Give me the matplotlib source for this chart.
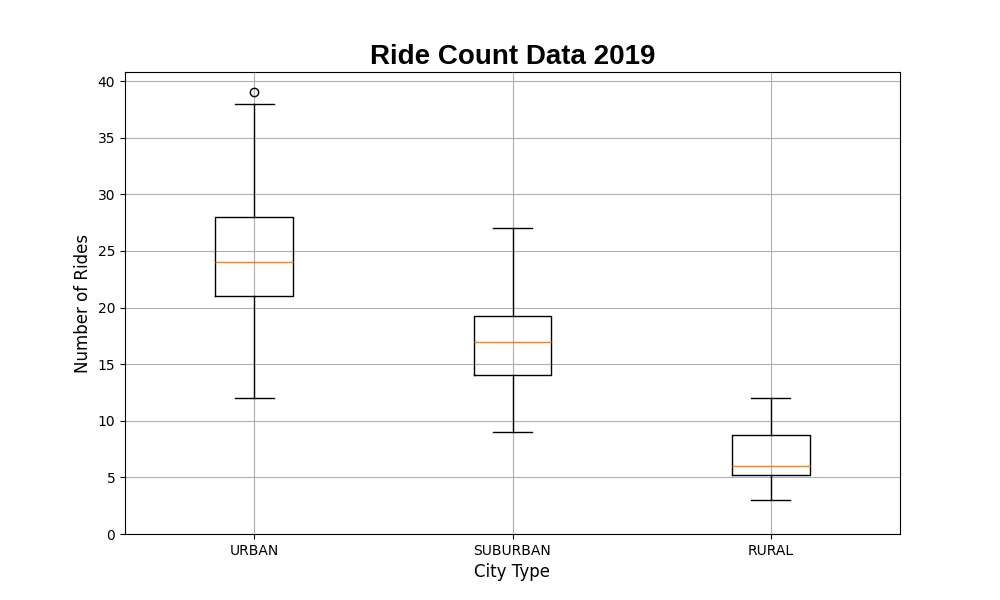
import matplotlib
matplotlib.use("Agg")
import matplotlib.pyplot as plt

city_types = ["URBAN", "SUBURBAN", "RURAL"]
whisker_low = [12, 9, 3]
q1 = [21, 14, 5.25]
median = [24, 17, 6]
q3 = [28, 19.25, 8.75]
whisker_high = [38, 27, 12]
outliers = [[39], [], []]

stats = []
for i, name in enumerate(city_types):
    stats.append({"label": name, "whislo": whisker_low[i], "q1": q1[i],
                  "med": median[i], "q3": q3[i], "whishi": whisker_high[i],
                  "fliers": outliers[i]})

fig, ax = plt.subplots(figsize=(10, 6))
ax.bxp(stats, showfliers=True)
ax.set_title("Ride Count Data 2019", fontsize=20, fontweight="bold",
             family="Liberation Sans")
ax.set_ylabel("Number of Rides", fontsize=12)
ax.set_xlabel("City Type", fontsize=12)
ax.set_yticks(range(0, 41, 5))
ax.set_ylim(0, 40.8)
ax.grid()
plt.savefig("out.png", dpi=100)
